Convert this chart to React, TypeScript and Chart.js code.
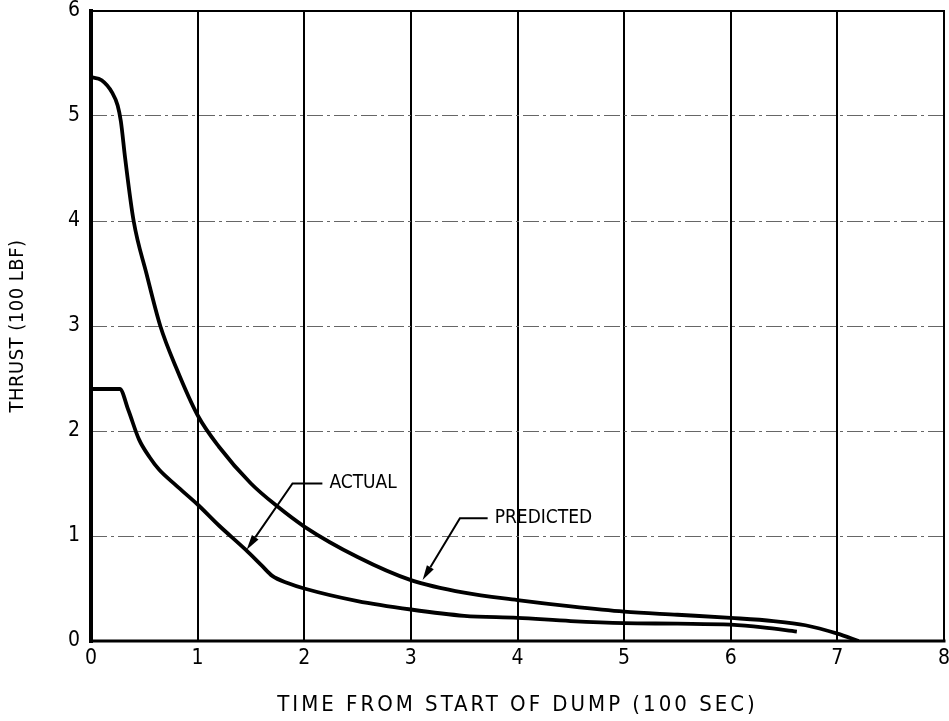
import React, { useEffect, useRef } from "react";
import { Chart, registerables } from "chart.js";

Chart.register(...registerables);

// ---- data (hundreds of seconds / hundreds of lbf) ----
const predictedX = [0, 0.1, 0.2, 0.25, 0.28, 0.32, 0.4, 0.52, 0.65, 0.8, 1.0, 1.2, 1.5, 1.75, 2.0, 2.5, 3.0, 3.5, 4.0, 4.5, 5.0, 5.5, 6.0, 6.4, 6.7, 7.0, 7.2];
const predictedY = [5.37, 5.34, 5.22, 5.1, 4.95, 4.6, 4.0, 3.5, 3.0, 2.6, 2.15, 1.85, 1.5, 1.28, 1.09, 0.8, 0.58, 0.46, 0.39, 0.33, 0.28, 0.25, 0.22, 0.19, 0.15, 0.07, 0.0];

const actualX = [0, 0.27, 0.35, 0.45, 0.55, 0.64, 0.8, 1.0, 1.2, 1.45, 1.6, 1.7, 1.85, 2.0, 2.5, 3.0, 3.5, 4.0, 4.5, 5.0, 5.5, 6.0, 6.3, 6.62];
const actualY = [2.4, 2.4, 2.2, 1.92, 1.75, 1.63, 1.48, 1.3, 1.1, 0.87, 0.72, 0.62, 0.55, 0.5, 0.38, 0.3, 0.24, 0.22, 0.19, 0.17, 0.165, 0.155, 0.13, 0.09];

const xTickValues = [0, 1, 2, 3, 4, 5, 6, 7, 8];
const yTickValues = [0, 1, 2, 3, 4, 5, 6];

const xTitle = "TIME FROM START OF DUMP (100 SEC)";
const yTitle = "THRUST (100 LBF)";

// callout labels (data coordinates)
const calloutLabels = ["ACTUAL", "PREDICTED"];
const calloutTipX = [1.46, 3.11];
const calloutTipY = [0.87, 0.58];
const calloutKneeX = [1.89, 3.46];
const calloutKneeY = [1.5, 1.17];
const calloutEndX = [2.17, 3.72];

const FONT = "'DejaVu Sans Condensed', 'DejaVu Sans', sans-serif";
const OFFSET_TOP = 20; // canvas is shifted up so the top tick label can overhang

const overlay = {
  id: "overlay",
  afterDatasetsDraw(chart: any) {
    const { ctx, chartArea: a, scales } = chart;
    const xs = scales.x;
    const ys = scales.y;
    ctx.save();
    ctx.strokeStyle = "#000";
    ctx.fillStyle = "#000";
    ctx.lineCap = "square";
    // frame
    ctx.lineWidth = 2;
    ctx.beginPath();
    ctx.moveTo(a.left, a.top);
    ctx.lineTo(a.right, a.top);
    ctx.lineTo(a.right, a.bottom);
    ctx.stroke();
    ctx.lineWidth = 3;
    ctx.beginPath();
    ctx.moveTo(a.left, a.bottom);
    ctx.lineTo(a.right, a.bottom);
    ctx.stroke();
    ctx.lineWidth = 4;
    ctx.beginPath();
    ctx.moveTo(a.left, a.top);
    ctx.lineTo(a.left, a.bottom);
    ctx.stroke();

    // callouts
    ctx.lineCap = "butt";
    for (let i = 0; i < calloutLabels.length; i++) {
      const tx = xs.getPixelForValue(calloutTipX[i]);
      const ty = ys.getPixelForValue(calloutTipY[i]);
      const kx = xs.getPixelForValue(calloutKneeX[i]);
      const ky = ys.getPixelForValue(calloutKneeY[i]);
      const ex = xs.getPixelForValue(calloutEndX[i]);
      const ang = Math.atan2(ty - ky, tx - kx);
      const headLen = 15;
      const headW = 4;
      const bx = tx - Math.cos(ang) * headLen;
      const by = ty - Math.sin(ang) * headLen;
      ctx.lineWidth = 2;
      ctx.beginPath();
      ctx.moveTo(ex, ky);
      ctx.lineTo(kx, ky);
      ctx.lineTo(bx, by);
      ctx.stroke();
      ctx.beginPath();
      ctx.moveTo(tx, ty);
      ctx.lineTo(bx + Math.sin(ang) * headW, by - Math.cos(ang) * headW);
      ctx.lineTo(bx - Math.sin(ang) * headW, by + Math.cos(ang) * headW);
      ctx.closePath();
      ctx.fill();
      ctx.font = `19px ${FONT}`;
      (ctx as any).letterSpacing = "0px";
      ctx.textAlign = "left";
      ctx.textBaseline = "middle";
      ctx.fillText(calloutLabels[i], ex + 7, ky);
    }

    // axis titles
    ctx.font = `22px ${FONT}`;
    (ctx as any).letterSpacing = "3px";
    ctx.textAlign = "center";
    ctx.textBaseline = "middle";
    ctx.fillText(xTitle, (a.left + a.right) / 2, 705 + OFFSET_TOP);
    ctx.font = `20px ${FONT}`;
    (ctx as any).letterSpacing = "0.5px";
    ctx.translate(18, (a.top + a.bottom) / 2);
    ctx.rotate(-Math.PI / 2);
    ctx.fillText(yTitle, 0, 0);
    ctx.restore();
  },
};

export default function App() {
  const ref = useRef<HTMLCanvasElement | null>(null);
  useEffect(() => {
    if (!ref.current) return;
    const chart = new Chart(ref.current, {
      type: "line",
      data: {
        datasets: [
          {
            label: "PREDICTED",
            data: predictedX.map((x, i) => ({ x, y: predictedY[i] })),
            borderColor: "#000",
            borderWidth: 3.8,
            pointRadius: 0,
            cubicInterpolationMode: "monotone",
            fill: false,
          },
          {
            label: "ACTUAL",
            data: actualX.map((x, i) => ({ x, y: actualY[i] })),
            borderColor: "#000",
            borderWidth: 3.8,
            pointRadius: 0,
            cubicInterpolationMode: "monotone",
            fill: false,
          },
        ],
      },
      options: {
        animation: false,
        responsive: false,
        devicePixelRatio: 1,
        layout: { padding: { top: 11 + OFFSET_TOP, right: 26, left: 0, bottom: 0 } },
        plugins: {
          legend: { display: false },
          tooltip: { enabled: false },
        },
        scales: {
          x: {
            type: "linear",
            min: 0,
            max: 8,
            afterFit: (s: any) => {
              s.height = 80;
            },
            afterBuildTicks: (s: any) => {
              s.ticks = xTickValues.map((v) => ({ value: v }));
            },
            ticks: {
              color: "#000",
              padding: 5,
              font: { family: FONT, size: 21 },
              maxRotation: 0,
              callback: (v: any) => String(v),
            },
            grid: {
              drawTicks: false,
              color: (c: any) =>
                c.tick && (c.tick.value === 0 || c.tick.value === 8) ? "rgba(0,0,0,0)" : "#000",
              lineWidth: 2,
            },
            border: { display: false },
          },
          y: {
            type: "linear",
            min: 0,
            max: 6,
            afterFit: (s: any) => {
              s.width = 91;
            },
            afterBuildTicks: (s: any) => {
              s.ticks = yTickValues.map((v) => ({ value: v }));
            },
            ticks: {
              color: "#000",
              padding: 11,
              font: { family: FONT, size: 21 },
              callback: (v: any) => String(v),
            },
            grid: {
              drawTicks: false,
              color: (c: any) =>
                c.tick && (c.tick.value === 0 || c.tick.value === 6) ? "rgba(0,0,0,0)" : "#666",
              lineWidth: 1,
            },
            border: { display: false, dash: [16, 4, 3, 4] },
          },
        },
      },
      plugins: [overlay],
    } as any);
    return () => chart.destroy();
  }, []);
  return (
    <div
      style={{
        position: "fixed",
        left: 0,
        top: 0,
        width: 949,
        height: 721,
        overflow: "hidden",
        background: "#fff",
      }}
    >
      <canvas
        ref={ref}
        width={970}
        height={721 + OFFSET_TOP}
        style={{ display: "block", position: "absolute", left: 0, top: -OFFSET_TOP }}
      />
    </div>
  );
}
